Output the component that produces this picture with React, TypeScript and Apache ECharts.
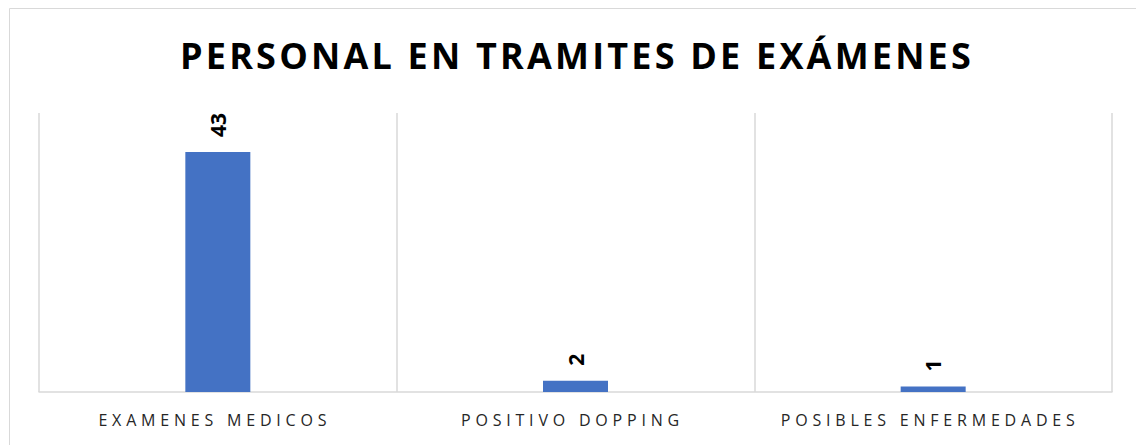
import React, { useEffect, useRef } from "react";
import * as echarts from "echarts";

const titleText = "PERSONAL EN TRAMITES DE EXÁMENES";
const categories = ["EXAMENES MEDICOS", "POSITIVO DOPPING", "POSIBLES ENFERMEDADES"];
const values = [43, 2, 1];
const yMax = 50;

const css = `
.chartbox text[style*="36px"] { letter-spacing: 3.2px; }
.chartbox text[style*="16px"] { letter-spacing: 4.8px; }
`;

export default function App() {
  const ref = useRef<HTMLDivElement>(null);
  useEffect(() => {
    document.body.style.margin = "0";
    if (!ref.current) return;
    const chart = echarts.init(ref.current, undefined, { renderer: "svg" });
    chart.setOption({
      animation: false,
      backgroundColor: "#ffffff",
      title: {
        text: titleText,
        left: 572,
        top: 32,
        textAlign: "center",
        textStyle: {
          fontFamily: "Open Sans",
          fontSize: 36,
          fontWeight: "bold",
          color: "#000000",
        },
      },
      graphic: [
        {
          type: "rect",
          shape: { x: 9.5, y: 8.5, width: 1200, height: 500 },
          style: { fill: "none", stroke: "#d9d9d9", lineWidth: 1 },
          silent: true,
        },
      ],
      grid: { left: 39, right: 24, top: 113, bottom: 53, containLabel: false },
      xAxis: {
        type: "category",
        data: categories,
        axisLine: { show: true, lineStyle: { color: "#d9d9d9", width: 1.5 } },
        axisTick: { show: false },
        splitLine: { show: true, lineStyle: { color: "#d9d9d9", width: 1.5 } },
        axisLabel: {
          margin: 20,
          fontFamily: "Open Sans",
          fontSize: 16,
          color: "#262626",
          padding: [0, 6, 0, 0],
        },
      },
      yAxis: {
        type: "value",
        min: 0,
        max: yMax,
        show: false,
        splitLine: { show: false },
      },
      series: [
        {
          type: "bar",
          data: values,
          barWidth: 65,
          itemStyle: { color: "#4472C4" },
          label: {
            show: true,
            position: "top",
            rotate: 90,
            align: "left",
            verticalAlign: "middle",
            distance: 15,
            fontFamily: "Open Sans",
            fontSize: 21,
            fontWeight: "bold",
            color: "#000000",
          },
        },
      ],
    });
    return () => chart.dispose();
  }, []);
  return (
    <>
      <style>{css}</style>
      <div className="chartbox" ref={ref} style={{ width: 1136, height: 445 }} />
    </>
  );
}
